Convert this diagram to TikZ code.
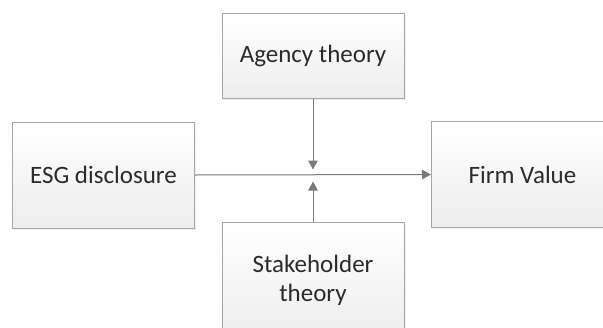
\documentclass[tikz,border=0pt]{standalone}
\usepackage{fontspec}
\setmainfont{Carlito}
\usetikzlibrary{arrows.meta,shadows}
\definecolor{boxline}{HTML}{A6A6A6}
\definecolor{arrowgray}{HTML}{7A7A7A}
\definecolor{txtgray}{HTML}{2B2B2B}

\begin{document}
\begin{tikzpicture}[x=1pt,y=-1pt,>={Triangle[length=9pt,width=9.5pt]},
    box/.style={draw=boxline, line width=1pt, top color=white, bottom color=black!7,
        minimum width=182pt, align=center, text=txtgray,
        font=\fontsize{25}{29}\selectfont,
        drop shadow={opacity=0.12, shadow xshift=1.5pt, shadow yshift=-1.5pt}},
    link/.style={->, draw=arrowgray, fill=arrowgray, line width=1pt}]
    \useasboundingbox (0,0) rectangle (603,327);

    \node[box, minimum height=85pt](agency) at (313,55.5) {Agency theory};
    \node[box, minimum height=106pt](esg) at (103.5,175) {ESG disclosure};
    \node[box, minimum height=106pt](firm) at (522.5,174.5) {Firm Value};
    \node[box, minimum height=116pt](stake) at (313,280.5) {Stakeholder\\theory};

    \coordinate(above) at (313,169.5);
    \coordinate(below) at (313,181.5);

    \draw[link](esg.east)--(firm.west);
    \draw[link](agency.south)--(above);
    \draw[link](stake.north)--(below);
\end{tikzpicture}
\end{document}
